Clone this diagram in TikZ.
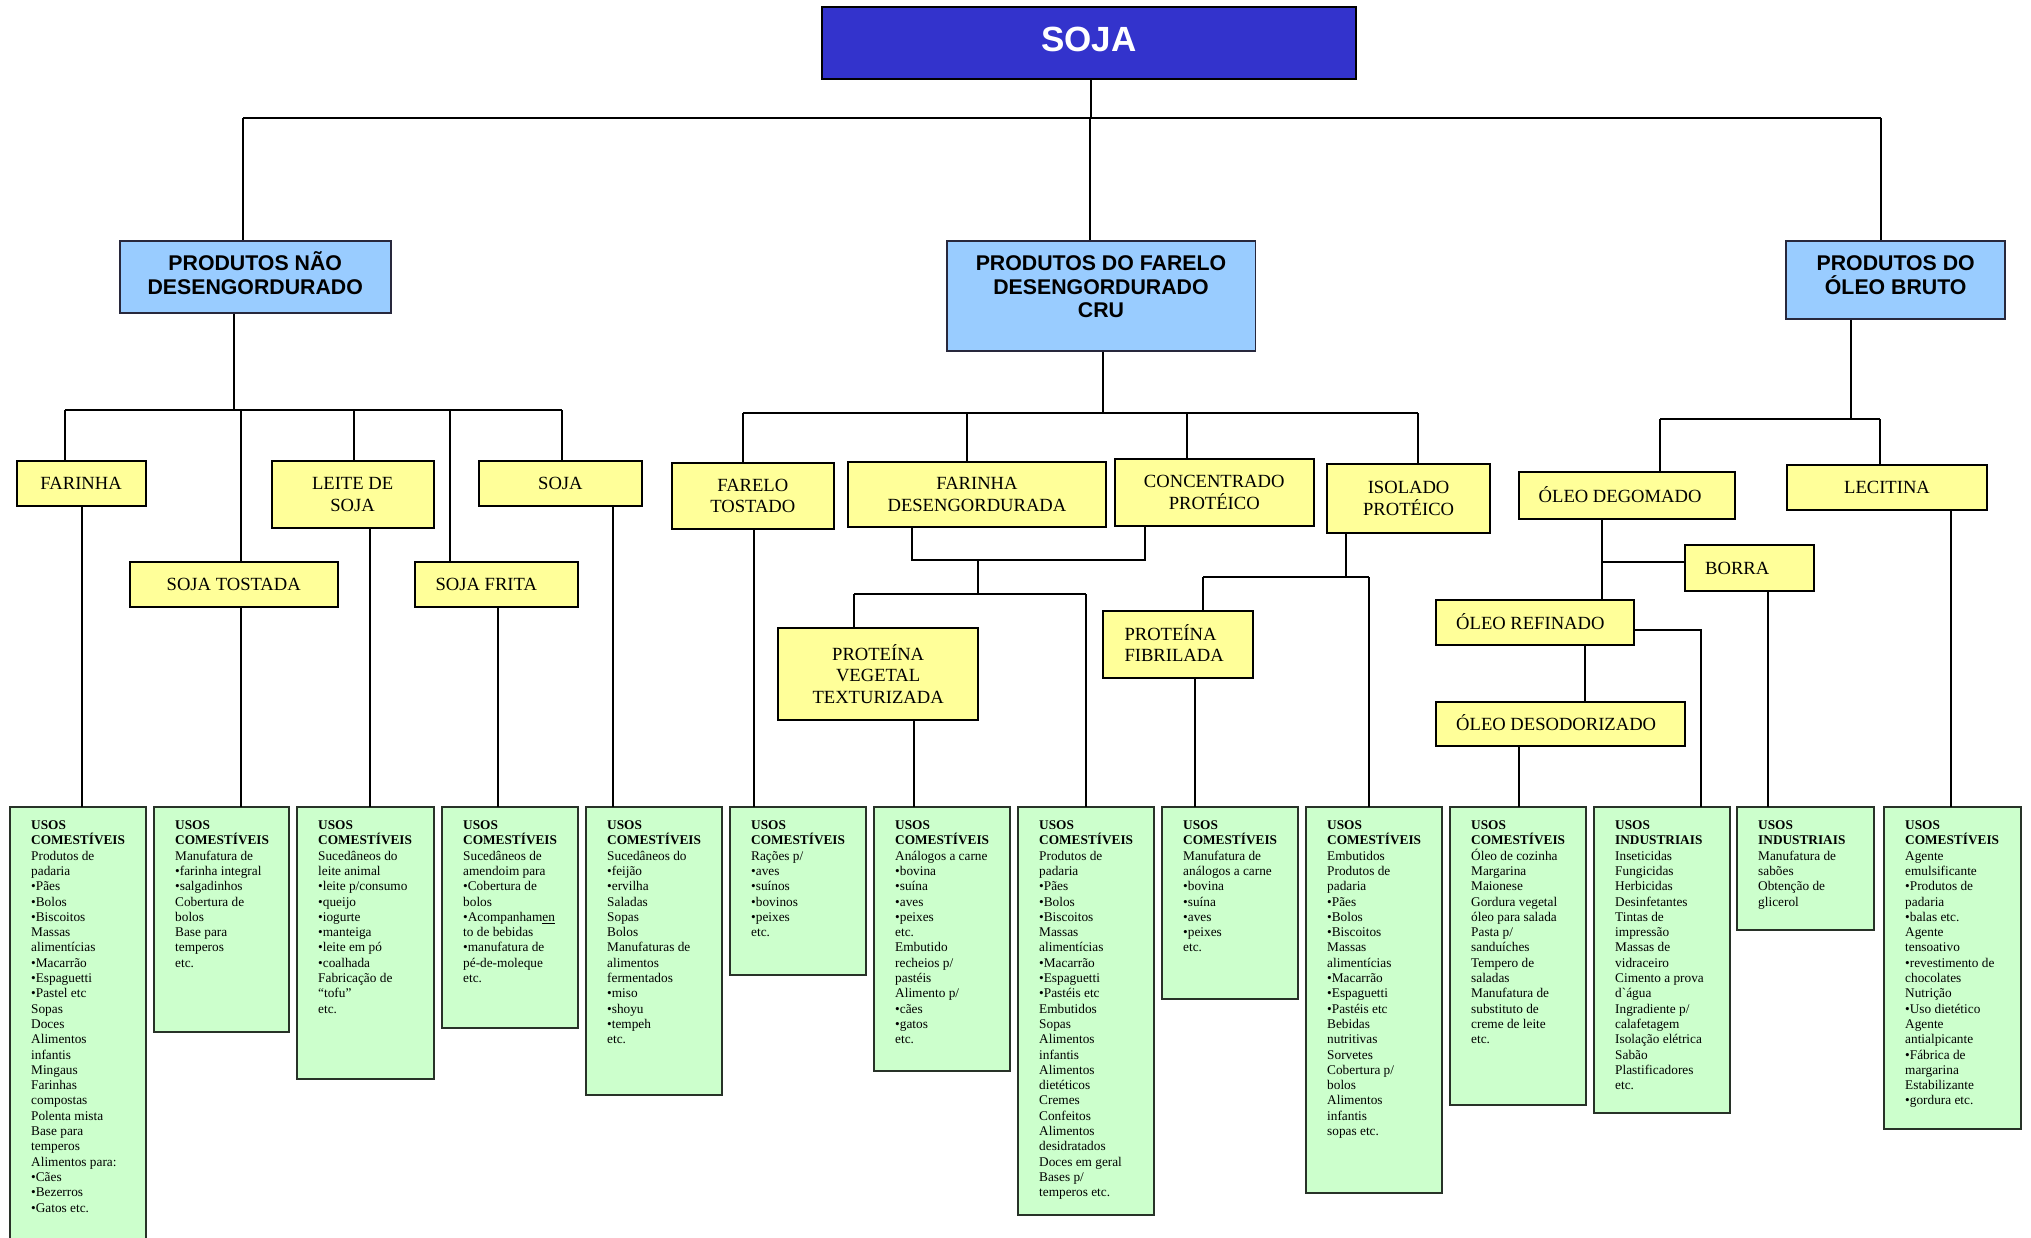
\documentclass[tikz,border=0pt]{standalone}
\usepackage{fontspec}
\setmainfont{Liberation Serif}
\newfontfamily\arialf{Liberation Sans}
\definecolor{sojablue}{RGB}{51,51,204}
\definecolor{bluefill}{RGB}{153,204,255}
\definecolor{bluedraw}{RGB}{40,40,60}
\definecolor{yellowfill}{RGB}{255,255,153}
\definecolor{greenfill}{RGB}{204,255,204}
\definecolor{greendraw}{RGB}{40,50,40}
\tikzset{
  conn/.style={line width=1.8pt, draw=black},
  topbus/.style={line width=2.6pt, draw=black},
  sojabox/.style={draw=black, line width=2.2pt, fill=sojablue, inner sep=0pt},
  ybox/.style={draw=black, line width=2pt, fill=yellowfill, inner sep=0pt, font=\fontsize{18.6}{21.7}\selectfont, align=center},
  ytext/.style={inner sep=0pt, font=\fontsize{18.6}{21.7}\selectfont, align=left, anchor=west},
  bbox/.style={draw=bluedraw, line width=1.4pt, fill=bluefill, inner sep=0pt},
  btext/.style={inner sep=0pt, font=\arialf\bfseries\fontsize{21.3}{23.5}\selectfont, align=center, anchor=north},
  gbox/.style={draw=greendraw, line width=1.8pt, fill=greenfill, inner sep=0pt},
  gtext/.style={inner sep=0pt, font=\fontsize{13.3}{15.3}\selectfont, align=left, anchor=north west},
}
\newcommand\mybox[7]{\node[#6, minimum width={(#4-#2)*1pt}, minimum height={(#5-#3)*1pt}] (#1) at ({(#2+#4)/2},{(#3+#5)/2}) {#7};}
\newcommand\hdr[1]{\textbf{USOS}\\\textbf{#1}}

\begin{document}
\begin{tikzpicture}[x=1pt,y=-1pt]
\useasboundingbox (0,0) rectangle (2031,1237);

% ---------- top level ----------
\mybox{soja}{822}{7}{1356}{79}{sojabox}{}
\node[inner sep=0pt, text=white, font=\arialf\bfseries\fontsize{35}{40}\selectfont] (sojat) at (1089,39) {SOJA};

\mybox{pnd}{120}{241}{391}{313}{bbox}{}
\node[btext] (pndt) at (255.2,251.6) {PRODUTOS NÃO\\DESENGORDURADO};
\mybox{pfd}{947}{241}{1255.5}{351}{bbox}{}
\node[btext] (pfdt) at (1101,255.5) {PRODUTOS DO FARELO\\DESENGORDURADO\\CRU};
\mybox{pob}{1786}{241}{2005}{319}{bbox}{}
\node[btext] (pobt) at (1895.7,255.5) {PRODUTOS DO\\ÓLEO BRUTO};

% ---------- yellow boxes ----------
\mybox{yfar}{16.5}{461}{145.7}{505.7}{ybox}{FARINHA}
\mybox{ytos}{129.7}{562}{337.8}{607}{ybox}{SOJA TOSTADA}
\mybox{ylei}{271.5}{461}{433.7}{527.7}{ybox}{LEITE DE\\SOJA}
\mybox{yfri}{415.4}{562}{578}{607}{ybox}{}
\node[ytext] (yfrit) at ([xshift=21pt]yfri.west) {SOJA FRITA};
\mybox{ysoj}{479}{461}{641.8}{505.7}{ybox}{SOJA}
\mybox{yfare}{671.6}{463}{834}{529}{ybox}{FARELO\\TOSTADO}
\mybox{yfdes}{848.4}{462}{1105.5}{527}{ybox}{FARINHA\\DESENGORDURADA}
\mybox{ycon}{1114.5}{459}{1314}{526}{ybox}{CONCENTRADO\\PROTÉICO}
\mybox{yiso}{1327.4}{464}{1489.8}{533}{ybox}{ISOLADO\\PROTÉICO}
\mybox{ypvt}{778.3}{628}{978}{720}{ybox}{PROTEÍNA\\VEGETAL\\TEXTURIZADA}
\mybox{yfib}{1103.3}{611}{1253.3}{678.3}{ybox}{}
\node[ytext] (yfibt) at ([xshift=22pt,yshift=1.5pt]yfib.west) {PROTEÍNA\\FIBRILADA};
\mybox{ydeg}{1518.5}{472.3}{1735.3}{519.3}{ybox}{}
\node[ytext] (ydegt) at ([xshift=21pt,yshift=1.5pt]ydeg.west) {ÓLEO DEGOMADO};
\mybox{ylec}{1787}{465}{1987}{510}{ybox}{LECITINA}
\mybox{ybor}{1685}{545}{1814}{591}{ybox}{}
\node[ytext] (ybort) at ([xshift=21pt]ybor.west) {BORRA};
\mybox{yref}{1436}{600}{1633.5}{645}{ybox}{}
\node[ytext] (yreft) at ([xshift=21pt,yshift=1pt]yref.west) {ÓLEO REFINADO};
\mybox{ydes}{1436}{701.7}{1685}{746}{ybox}{}
\node[ytext] (ydest) at ([xshift=21pt,yshift=1pt]ydes.west) {ÓLEO DESODORIZADO};

% ---------- green boxes ----------
\mybox{g1}{10}{807}{146}{1250}{gbox}{}
\mybox{g2}{154}{807}{289}{1032}{gbox}{}
\mybox{g3}{297}{807}{434}{1079}{gbox}{}
\mybox{g4}{442}{807}{578}{1028}{gbox}{}
\mybox{g5}{586}{807}{722}{1095}{gbox}{}
\mybox{g6}{730}{807}{866}{975}{gbox}{}
\mybox{g7}{874}{807}{1010}{1071}{gbox}{}
\mybox{g8}{1018}{807}{1154}{1215}{gbox}{}
\mybox{g9}{1162}{807}{1298}{999}{gbox}{}
\mybox{g10}{1306}{807}{1442}{1193}{gbox}{}
\mybox{g11}{1450}{807}{1586}{1105}{gbox}{}
\mybox{g12}{1594}{807}{1730}{1113}{gbox}{}
\mybox{g13}{1737}{807}{1874}{930}{gbox}{}
\mybox{g14}{1884}{807}{2021}{1129}{gbox}{}

\node[gtext] (g1t) at (31,820.5) {\hdr{COMESTÍVEIS}\\Produtos de\\padaria\\•Pães\\•Bolos\\•Biscoitos\\Massas\\alimentícias\\•Macarrão\\•Espaguetti\\•Pastel etc\\Sopas\\Doces\\Alimentos\\infantis\\Mingaus\\Farinhas\\compostas\\Polenta mista\\Base para\\temperos\\Alimentos para:\\•Cães\\•Bezerros\\•Gatos etc.};
\node[gtext] (g2t) at (175,820.5) {\hdr{COMESTÍVEIS}\\Manufatura de\\•farinha integral\\•salgadinhos\\Cobertura de\\bolos\\Base para\\temperos\\etc.};
\node[gtext] (g3t) at (318,820.5) {\hdr{COMESTÍVEIS}\\Sucedâneos do\\leite animal\\•leite p/consumo\\•queijo\\•iogurte\\•manteiga\\•leite em pó\\•coalhada\\Fabricação de\\“tofu”\\etc.};
\node[gtext] (g4t) at (463,820.5) {\hdr{COMESTÍVEIS}\\Sucedâneos de\\amendoim para\\•Cobertura de\\bolos\\•Acompanham\underline{en}\\to de bebidas\\•manufatura de\\pé-de-moleque\\etc.};
\node[gtext] (g5t) at (607,820.5) {\hdr{COMESTÍVEIS}\\Sucedâneos do\\•feijão\\•ervilha\\Saladas\\Sopas\\Bolos\\Manufaturas de\\alimentos\\fermentados\\•miso\\•shoyu\\•tempeh\\etc.};
\node[gtext] (g6t) at (751,820.5) {\hdr{COMESTÍVEIS}\\Rações p/\\•aves\\•suínos\\•bovinos\\•peixes\\etc.};
\node[gtext] (g7t) at (895,820.5) {\hdr{COMESTÍVEIS}\\Análogos a carne\\•bovina\\•suína\\•aves\\•peixes\\etc.\\Embutido\\recheios p/\\pastéis\\Alimento p/\\•cães\\•gatos\\etc.};
\node[gtext] (g8t) at (1039,820.5) {\hdr{COMESTÍVEIS}\\Produtos de\\padaria\\•Pães\\•Bolos\\•Biscoitos\\Massas\\alimentícias\\•Macarrão\\•Espaguetti\\•Pastéis etc\\Embutidos\\Sopas\\Alimentos\\infantis\\Alimentos\\dietéticos\\Cremes\\Confeitos\\Alimentos\\desidratados\\Doces em geral\\Bases p/\\temperos etc.};
\node[gtext] (g9t) at (1183,820.5) {\hdr{COMESTÍVEIS}\\Manufatura de\\análogos a carne\\•bovina\\•suína\\•aves\\•peixes\\etc.};
\node[gtext] (g10t) at (1327,820.5) {\hdr{COMESTÍVEIS}\\Embutidos\\Produtos de\\padaria\\•Pães\\•Bolos\\•Biscoitos\\Massas\\alimentícias\\•Macarrão\\•Espaguetti\\•Pastéis etc\\Bebidas\\nutritivas\\Sorvetes\\Cobertura p/\\bolos\\Alimentos\\infantis\\sopas etc.};
\node[gtext] (g11t) at (1471,820.5) {\hdr{COMESTÍVEIS}\\Óleo de cozinha\\Margarina\\Maionese\\Gordura vegetal\\óleo para salada\\Pasta p/\\sanduíches\\Tempero de\\saladas\\Manufatura de\\substituto de\\creme de leite\\etc.};
\node[gtext] (g12t) at (1615,820.5) {\hdr{INDUSTRIAIS}\\Inseticidas\\Fungicidas\\Herbicidas\\Desinfetantes\\Tintas de\\impressão\\Massas de\\vidraceiro\\Cimento a prova\\d\textasciigrave água\\Ingradiente p/\\calafetagem\\Isolação elétrica\\Sabão\\Plastificadores\\etc.};
\node[gtext] (g13t) at (1758,820.5) {\hdr{INDUSTRIAIS}\\Manufatura de\\sabões\\Obtenção de\\glicerol};
\node[gtext] (g14t) at (1905,820.5) {\hdr{COMESTÍVEIS}\\Agente\\emulsificante\\•Produtos de\\padaria\\•balas etc.\\Agente\\tensoativo\\•revestimento de\\chocolates\\Nutrição\\•Uso dietético\\Agente\\antialpicante\\•Fábrica de\\margarina\\Estabilizante\\•gordura etc.};

% ---------- junction coordinates ----------
\coordinate (tS) at (1091,118); \coordinate (tL) at (243,118);
\coordinate (tM) at (1090,118); \coordinate (tR) at (1881,118);
\coordinate (aS) at (234,410); \coordinate (a1) at (65,410);
\coordinate (a2) at (241,410); \coordinate (a3) at (354,410);
\coordinate (a4) at (450,410); \coordinate (a5) at (562,410);
\coordinate (bS) at (1103,413); \coordinate (b1) at (743,413);
\coordinate (b2) at (967,413); \coordinate (b3) at (1187,413);
\coordinate (b4) at (1418,413);
\coordinate (c1) at (912,560); \coordinate (c2) at (1145,560);
\coordinate (cM) at (978,560);
\coordinate (dM) at (978,594); \coordinate (d1) at (854,594);
\coordinate (d2) at (1086,594);
\coordinate (eS) at (1346,577); \coordinate (e1) at (1203,577);
\coordinate (e2) at (1369,577);
\coordinate (fS) at (1851,419); \coordinate (f1) at (1660,419);
\coordinate (f2) at (1880,419);
\coordinate (gX) at (1602,562);
\coordinate (hR) at (1701,630);
\coordinate (kX) at (1585,675);
\coordinate (u1) at (82,807); \coordinate (u2) at (241,807);
\coordinate (u3) at (370,807); \coordinate (u4) at (498,807);
\coordinate (u5) at (613,807); \coordinate (u6) at (754,807);
\coordinate (u7) at (914,807); \coordinate (u8) at (1086,807);
\coordinate (u9) at (1195,807); \coordinate (u10) at (1369,807);
\coordinate (u11) at (1519,807); \coordinate (u12) at (1701,807);
\coordinate (u13) at (1768,807); \coordinate (u14) at (1951,807);

% ---------- connectors ----------
\draw[conn] (soja.south -| tS) -- (tS);
\draw[topbus] (tL) -- (tR);
\draw[conn] (tL) -- (pnd.north -| tL);
\draw[conn] (tM) -- (pfd.north -| tM);
\draw[conn] (tR) -- (pob.north -| tR);

\draw[conn] (pnd.south -| aS) -- (aS);
\draw[conn] (a1) -- (a5);
\draw[conn] (a1) -- (yfar.north -| a1);
\draw[conn] (a2) -- (ytos.north -| a2);
\draw[conn] (a3) -- (ylei.north -| a3);
\draw[conn] (a4) -- (yfri.north -| a4);
\draw[conn] (a5) -- (ysoj.north -| a5);

\draw[conn] (pfd.south -| bS) -- (bS);
\draw[conn] (b1) -- (b4);
\draw[conn] (b1) -- (yfare.north -| b1);
\draw[conn] (b2) -- (yfdes.north -| b2);
\draw[conn] (b3) -- (ycon.north -| b3);
\draw[conn] (b4) -- (yiso.north -| b4);

\draw[conn] (yfdes.south -| c1) -- (c1) -- (c2) -- (ycon.south -| c2);
\draw[conn] (cM) -- (dM);
\draw[conn] (d1) -- (d2);
\draw[conn] (d1) -- (ypvt.north -| d1);
\draw[conn] (d2) -- (u8);

\draw[conn] (yiso.south -| eS) -- (eS);
\draw[conn] (e1) -- (e2);
\draw[conn] (e1) -- (yfib.north -| e1);
\draw[conn] (e2) -- (u10);

\draw[conn] (pob.south -| fS) -- (fS);
\draw[conn] (f1) -- (f2);
\draw[conn] (f1) -- (ydeg.north -| f1);
\draw[conn] (f2) -- (ylec.north -| f2);

\draw[conn] (ydeg.south -| gX) -- (yref.north -| gX);
\draw[conn] (gX) -- (ybor.west |- gX);
\draw[conn] (yref.east |- hR) -- (hR) -- (u12);
\draw[conn] (yref.south -| kX) -- (ydes.north -| kX);

\draw[conn] (yfar.south -| u1) -- (u1);
\draw[conn] (ytos.south -| u2) -- (u2);
\draw[conn] (ylei.south -| u3) -- (u3);
\draw[conn] (yfri.south -| u4) -- (u4);
\draw[conn] (ysoj.south -| u5) -- (u5);
\draw[conn] (yfare.south -| u6) -- (u6);
\draw[conn] (ypvt.south -| u7) -- (u7);
\draw[conn] (yfib.south -| u9) -- (u9);
\draw[conn] (ydes.south -| u11) -- (u11);
\draw[conn] (ybor.south -| u13) -- (u13);
\draw[conn] (ylec.south -| u14) -- (u14);
\end{tikzpicture}
\end{document}
